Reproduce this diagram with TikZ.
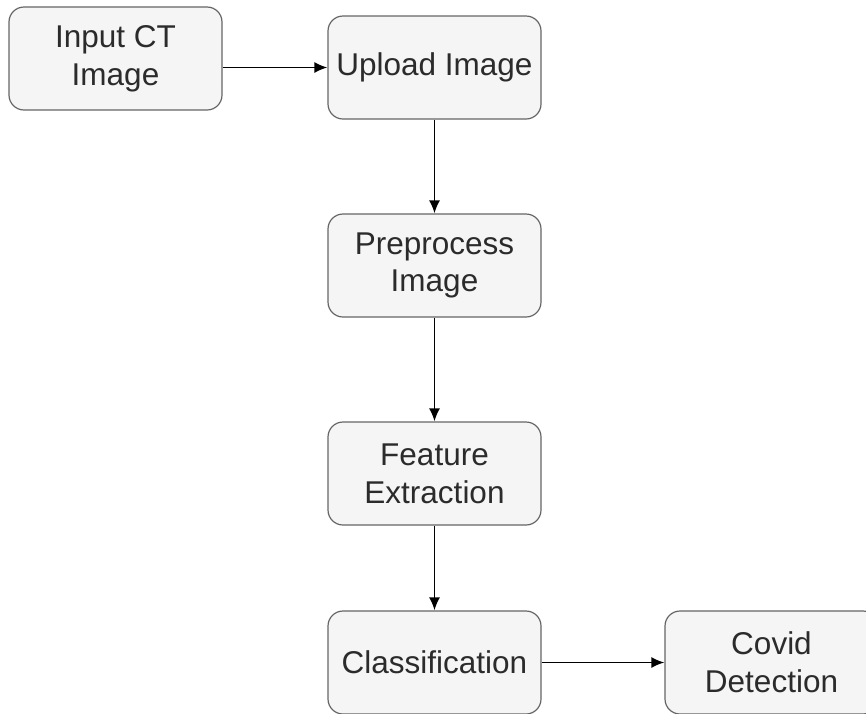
\documentclass[tikz,border=0pt]{standalone}
\usepackage{fontspec}
\setmainfont{Liberation Sans}
\usepackage{xcolor}
\usetikzlibrary {positioning,arrows.meta}
\definecolor{boxfill}{HTML}{F5F5F5}
\definecolor{boxline}{HTML}{666666}
\definecolor{boxtext}{HTML}{2B2B2B}

\begin{document}
\begin{tikzpicture}[-{Latex[length=13pt,width=11pt]} ,node distance =198pt and 319pt ,on grid , line width=1.8pt,
x=1pt, y=1pt,
stage/.style ={ rectangle, rounded corners=15pt, fill=boxfill, draw=boxline, line width=1.2pt,
text=boxtext, align=center, inner sep=0pt, minimum width =213pt, minimum height=103pt,
font=\fontsize{31.5}{37.8}\selectfont}]
\clip (0,0) rectangle (866,-713);
\node[stage] (Input) at (115.5,-58.5) {Input CT\\Image};
\node[stage, node distance = 9pt and 319pt] (Upload) [below right=of Input] {Upload Image};
\node[stage] (Preprocess) [below =of Upload] {Preprocess\\Image};
\node[stage, node distance = 208pt] (Feature) [below =of Preprocess] {Feature\\Extraction};
\node[stage, node distance = 189pt] (Classify) [below =of Feature] {Classification};
\node[stage, node distance = 337pt] (Covid) [right =of Classify] {Covid\\Detection};

\draw (Input.east |- Upload.west) -- (Upload.west);
\draw (Upload) -- (Preprocess);
\draw (Preprocess) -- (Feature);
\draw (Feature) -- (Classify);
\draw (Classify) -- (Covid);
\end{tikzpicture}
\end{document}
